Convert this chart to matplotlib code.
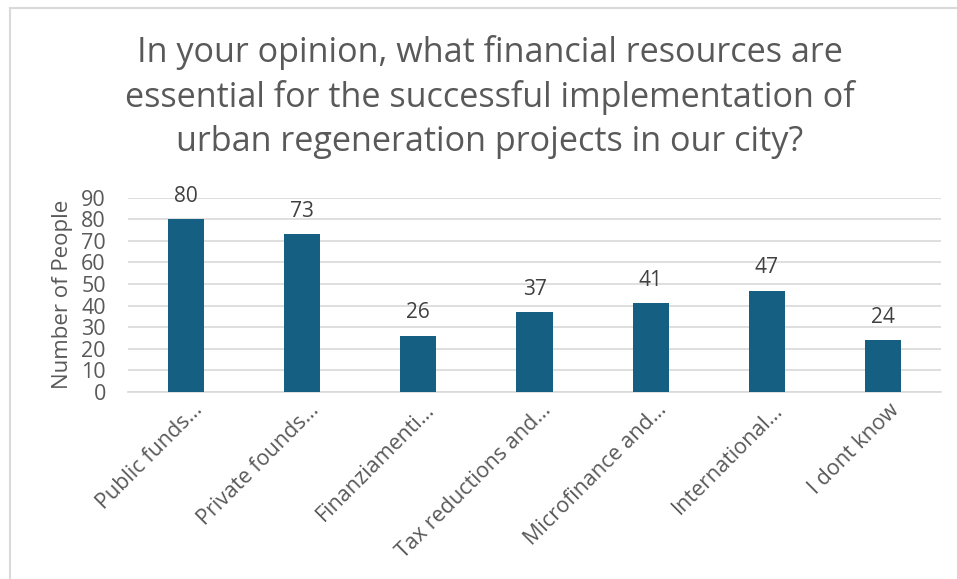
import matplotlib.pyplot as plt
import matplotlib.transforms as mtransforms
from matplotlib.lines import Line2D

categorias = [
    "Public funds…", "Private founds…", "Finanziamenti…",
    "Tax reductions and…", "Microfinance and…", "International…",
    "I dont know",
]
valores = [80, 73, 26, 37, 41, 47, 24]
ticks_y = [0, 10, 20, 30, 40, 50, 60, 70, 80, 90]

titulo = ("In your opinion, what financial resources are\n"
          "essential for the successful implementation of\n"
          "urban regeneration projects in our city?")

COR_BARRA = "#156082"
COR_TEXTO = "#595959"
COR_GRADE = "#D9D9D9"

plt.rcParams["font.family"] = ["Open Sans", "DejaVu Sans"]

fig = plt.figure(figsize=(9.57, 5.79), dpi=100)

# moldura do gráfico (só topo e lado esquerdo aparecem)
fig.add_artist(Line2D([10 / 957, 10 / 957], [0, 1 - 8 / 579],
                      transform=fig.transFigure, color="#D9D9D9", lw=1.5))
fig.add_artist(Line2D([10 / 957, 1], [1 - 8 / 579, 1 - 8 / 579],
                      transform=fig.transFigure, color="#D9D9D9", lw=1.5))

ax = fig.add_axes([128 / 957, 1 - 392 / 579, 813 / 957, (392 - 197.7) / 579])

x = range(len(categorias))
ax.bar(x, valores, width=0.31, color=COR_BARRA, zorder=3)

# rótulos de valor em cima de cada barra
for i, v in enumerate(valores):
    ax.annotate(str(v), (i, v), xytext=(0, 9), textcoords="offset points",
                ha="center", va="bottom", fontsize=15, color="#404040")

ax.set_xlim(-0.5, len(categorias) - 0.5)
ax.set_ylim(0, 90)
ax.set_yticks(ticks_y)
ax.grid(axis="y", color=COR_GRADE, lw=1.2, zorder=0)
for lado in ["top", "right", "left"]:
    ax.spines[lado].set_visible(False)
ax.spines["bottom"].set_color(COR_GRADE)
ax.spines["bottom"].set_linewidth(1.2)

ax.tick_params(axis="y", length=0, pad=16, labelsize=15.5, labelcolor=COR_TEXTO)
ax.tick_params(axis="x", length=0, pad=4, labelsize=15.5, labelcolor=COR_TEXTO)
ax.set_xticks(list(x))
ax.set_xticklabels(categorias, rotation=45, ha="right", rotation_mode="anchor")
desloc = mtransforms.ScaledTranslation(6 / 100, -2 / 100, fig.dpi_scale_trans)
for lbl in ax.get_xticklabels():
    lbl.set_transform(lbl.get_transform() + desloc)

ax.set_ylabel("Number of People", fontsize=16, color=COR_TEXTO, labelpad=6)

fig.text(490 / 957, 1 - 97 / 579, titulo, ha="center", va="center",
         fontsize=24.6, color=COR_TEXTO, linespacing=1.36)

fig.savefig("out.png", dpi=100)
